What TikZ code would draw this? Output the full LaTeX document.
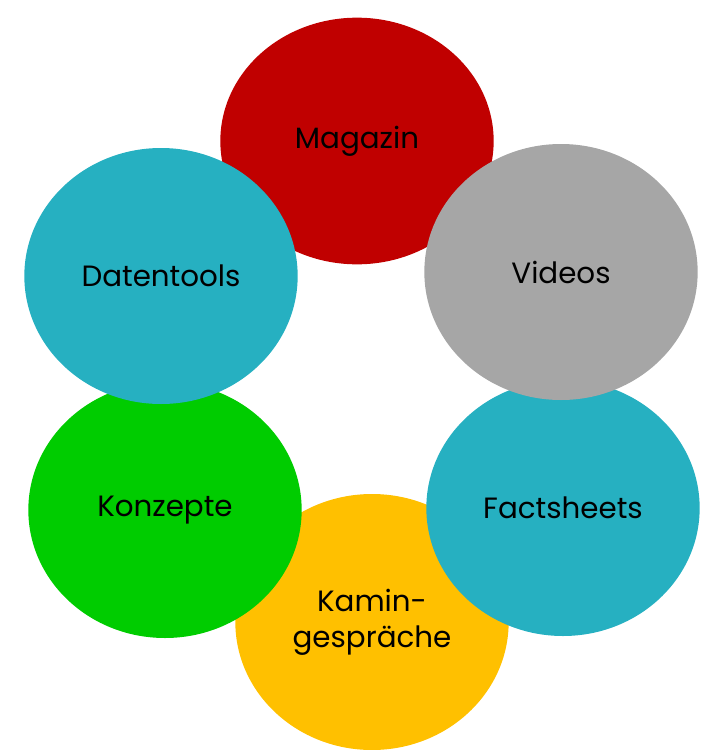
\documentclass[tikz,border=0pt]{standalone}
\usepackage{fontspec}
\setmainfont{Poppins}
\usepackage{tikz}
\usetikzlibrary{shapes.geometric}

\definecolor{magred}{HTML}{C00000}
\definecolor{vidgray}{HTML}{A6A6A6}
\definecolor{toolteal}{HTML}{26B0C1}
\definecolor{konzgreen}{HTML}{00CC00}
\definecolor{kaminyellow}{HTML}{FFC000}

\tikzset{
  bubble/.style={ellipse, draw=none, inner sep=0pt, minimum width=205pt, minimum height=192pt,
    text=black, align=center, font=\fontsize{22}{27}\selectfont}
}

\begin{document}
\begin{tikzpicture}[x=0.75pt, y=-0.75pt]
      \useasboundingbox (0,0) rectangle (705,750);

      % lower ones first, the upper ones lie on top
      \node[bubble, fill=kaminyellow] (kamin) at (372,622) {Kamin-\\gespräche};
      \node[bubble, fill=toolteal] (facts) at (563,508) {Factsheets};
      \node[bubble, fill=konzgreen] (konzepte) at (165,510) {Konzepte};
      \node[bubble, fill=magred, minimum height=185pt] (magazin) at (357,141) {Magazin};
      \node[bubble, fill=toolteal] (datentools) at (161,276) {Datentools};
      \node[bubble, fill=vidgray] (videos) at (561,272) {Videos};
    \end{tikzpicture}
\end{document}
